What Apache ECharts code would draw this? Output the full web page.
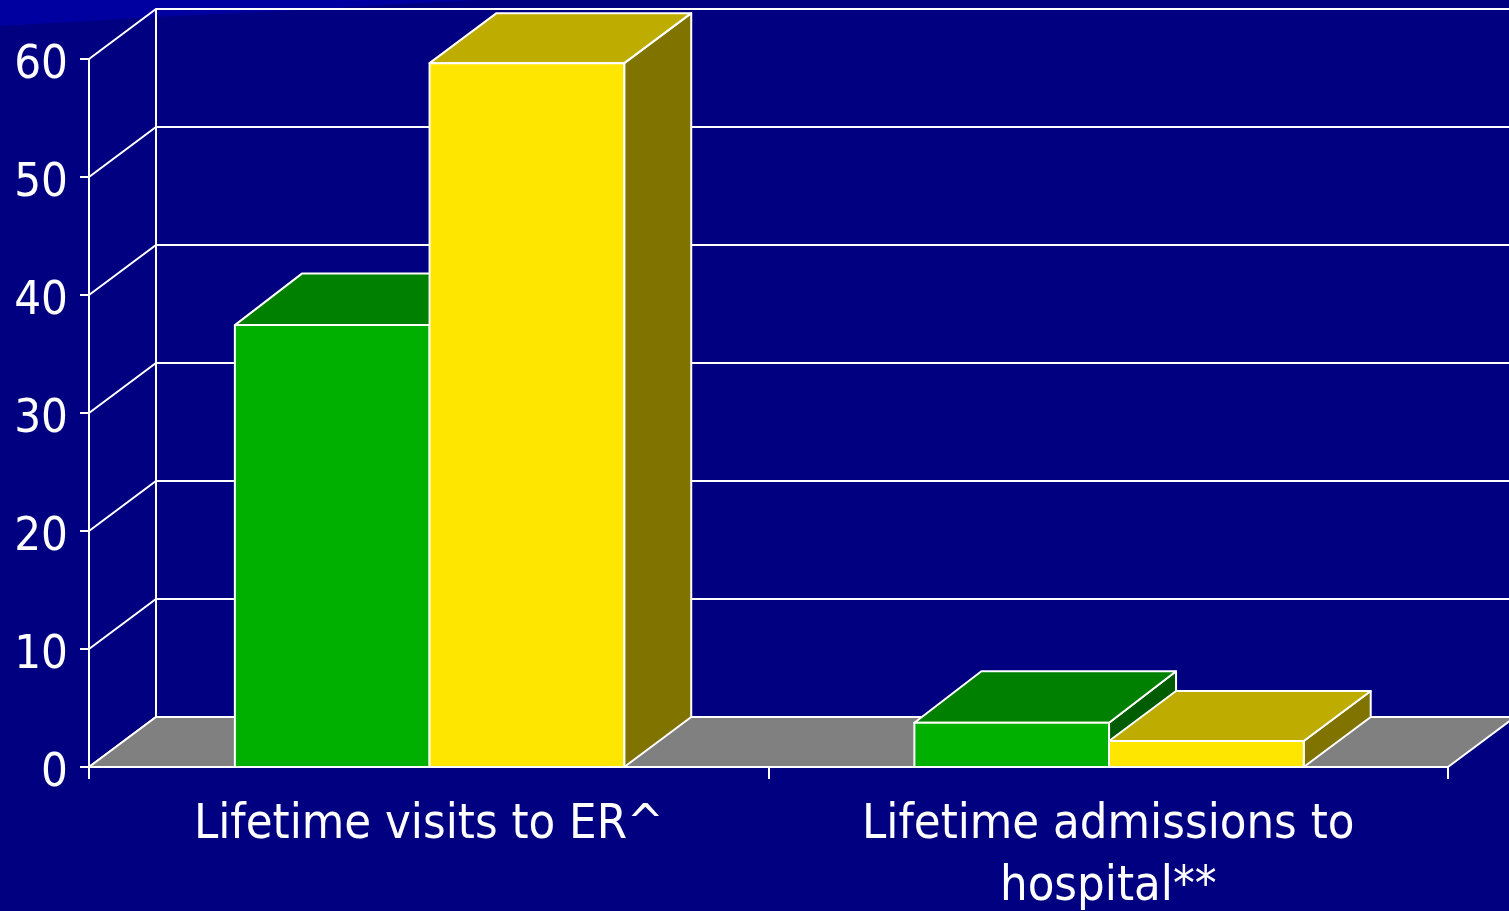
<!DOCTYPE html>
<html><head><meta charset="utf-8">
<style>html,body{margin:0;padding:0;background:#000080;overflow:hidden}#c{width:1509px;height:911px}</style>
<script src="https://cdn.jsdelivr.net/npm/echarts@6/dist/echarts.min.js"></script>
</head><body><div id="c"></div>
<script>
const categories = ['Lifetime visits to ER^', 'Lifetime admissions to\nhospital**'];
const greenValues = [37.45, 3.75];
const yellowValues = [59.65, 2.2];
const yTicks = [0, 10, 20, 30, 40, 50, 60];

const DX = 67, DY = 50, BAR = 0.2865, SPLIT = 0.8;
const LINE = { stroke: '#fff', lineWidth: 2, lineJoin: 'round' };

function wallItem(params, api) {
  const cs = params.coordSys;
  const y = api.coord([0, api.value(1)])[1];
  return { type: 'polyline', silent: true,
    shape: { points: [[cs.x, y], [cs.x + DX, y - DY], [cs.x + cs.width + DX + 20, y - DY]] },
    style: { fill: null, stroke: '#fff', lineWidth: 2 } };
}
function floorItem(params, api) {
  const cs = params.coordSys;
  const b = cs.y + cs.height, l = cs.x, r = cs.x + cs.width;
  return { type: 'group', silent: true, children: [
    { type: 'line', shape: { x1: l + DX, y1: cs.y - DY, x2: l + DX, y2: b - DY }, style: LINE },
    { type: 'polygon', shape: { points: [[l, b], [l + DX, b - DY], [r + DX, b - DY], [r, b]] },
      style: Object.assign({ fill: '#808080' }, LINE) }
  ] };
}
function barItem(side, dy, front, top, dark) {
  return function (params, api) {
    const c = api.value(0), p = api.coord([c, api.value(1)]), base = api.coord([c, 0]);
    const w = api.size([1, 0])[0] * BAR;
    const x0 = (side < 0 ? p[0] - w : p[0]) + SPLIT, x1 = x0 + w, yT = p[1], yB = base[1];
    return { type: 'group', silent: true, children: [
      { type: 'polygon', shape: { points: [[x1, yT], [x1 + DX, yT - dy], [x1 + DX, yB - dy], [x1, yB]] },
        style: Object.assign({ fill: dark }, LINE) },
      { type: 'polygon', shape: { points: [[x0, yT], [x0 + DX, yT - dy], [x1 + DX, yT - dy], [x1, yT]] },
        style: Object.assign({ fill: top }, LINE) },
      { type: 'rect', shape: { x: x0, y: yT, width: w, height: yB - yT },
        style: Object.assign({ fill: front }, LINE) }
    ] };
  };
}
const FONT = '"DejaVu Sans Condensed","DejaVu Sans",sans-serif';
const chart = echarts.init(document.getElementById('c'), null, { renderer: 'canvas' });
chart.setOption({
  animation: false,
  backgroundColor: '#000080',
  graphic: [{ type: 'polygon', z: -1, silent: true,
    shape: { points: [[0,0],[480,0],[400,4],[300,10],[156,17],[0,26]] },
    style: { fill: '#0000a0' } }],
  grid: { left: 89, top: 59, width: 1359, height: 708, outerBoundsMode: 'none' },
  xAxis: { type: 'category', data: categories,
    axisLine: { show: true, lineStyle: { color: '#fff', width: 2 } },
    axisTick: { show: true, length: 12, alignWithLabel: false, lineStyle: { color: '#fff', width: 2 } },
    axisLabel: { color: '#fff', fontFamily: FONT, fontSize: 48.5, lineHeight: 62, margin: 27, interval: 0 } },
  yAxis: { type: 'value', min: 0, max: 60, interval: 10,
    splitLine: { show: false },
    axisLine: { show: true, lineStyle: { color: '#fff', width: 2 } },
    axisTick: { show: true, length: 9, lineStyle: { color: '#fff', width: 2 } },
    axisLabel: { color: '#fff', fontFamily: FONT, fontSize: 47, margin: 21, verticalAlign: 'top', lineHeight: 14 } },
  series: [
    { type: 'custom', z: 1, renderItem: wallItem, data: yTicks.map(t => [0, t]), encode: { x: 0, y: 1 } },
    { type: 'custom', z: 2, renderItem: floorItem, data: [[0, 0]], encode: { x: 0, y: 1 } },
    { type: 'custom', z: 3, renderItem: barItem(-1, 51.5, '#00b000', '#008000', '#005c00'),
      data: greenValues.map((v, i) => [i, v]), encode: { x: 0, y: 1 } },
    { type: 'custom', z: 4, renderItem: barItem(1, DY, '#ffe600', '#bfac00', '#807300'),
      data: yellowValues.map((v, i) => [i, v]), encode: { x: 0, y: 1 } }
  ]
});
</script></body></html>
